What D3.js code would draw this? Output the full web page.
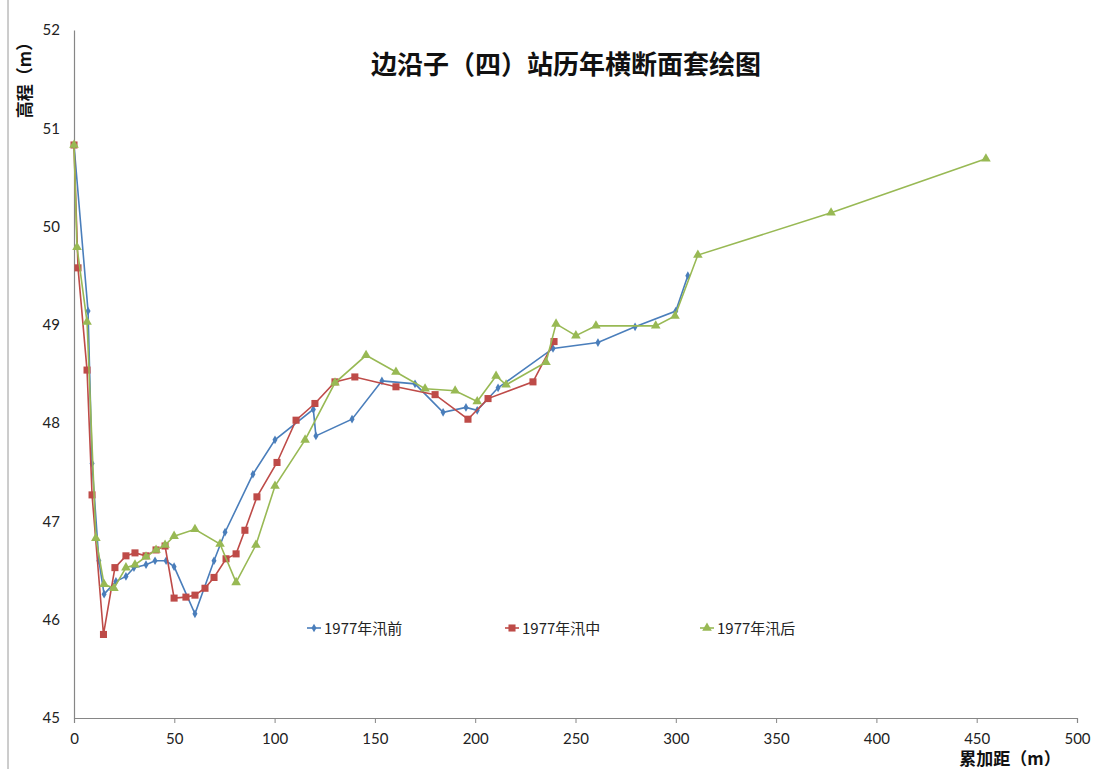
<!DOCTYPE html>
<html>
<head>
<meta charset="utf-8">
<script src="https://cdn.jsdelivr.net/npm/d3@7"></script>
<style>
    body { margin: 0; background: #fff; }
    svg text { font-family: Lato, "Noto Sans CJK SC", sans-serif; }
</style>
</head>
<body>
<div id="chart"></div>
<script>
/* Chart data: cumulative distance (m) and elevation (m) for each survey. */
const seriesNames = ['1977年汛前', '1977年汛中', '1977年汛后'];

const distBefore = [0, 7, 9, 12.4, 15, 20.9, 25.9, 29.9, 35.9, 40.4, 45.9, 49.9, 60.3, 69.8, 75.3, 89.2,
    100.2, 119.3, 120.6, 138.6, 153.5, 170, 184, 195.4, 201, 211.4, 238.8, 261.2, 279.7, 300, 306];
const elevBefore = [50.83, 49.14, 47.59, 46.6, 46.26, 46.39, 46.44, 46.53, 46.56, 46.6, 46.6, 46.54, 46.06, 46.6, 46.89, 47.48,
    47.83, 48.14, 47.87, 48.04, 48.43, 48.4, 48.11, 48.16, 48.13, 48.36, 48.76, 48.82, 48.98, 49.14, 49.5];

const distDuring = [0, 2, 6.5, 9, 14.7, 20.4, 25.9, 30.4, 35.9, 40.9, 45.4, 49.9, 55.8, 60.3, 65.3, 69.8,
    75.8, 80.8, 85.2, 91.2, 101.2, 110.7, 120.1, 130.1, 140, 160.5, 180, 196.4, 206.4, 228.8, 239.3];
const elevDuring = [50.83, 49.58, 48.54, 47.27, 45.85, 46.53, 46.65, 46.68, 46.65, 46.71, 46.75, 46.22, 46.23, 46.25, 46.32, 46.43,
    46.62, 46.67, 46.91, 47.25, 47.6, 48.03, 48.2, 48.42, 48.47, 48.37, 48.29, 48.04, 48.25, 48.42, 48.83];

const distAfter = [0, 1.5, 6.5, 10.9, 15, 19.9, 25.9, 30.4, 35.9, 40.9, 45.4, 49.9, 60.3, 72.8, 80.8, 90.7,
    100.2, 115.2, 130.1, 145.6, 160.5, 175, 190, 201, 210.4, 215.4, 235.3, 240.3, 250.2, 260.2, 290, 299.6, 311, 377.4, 454.6];
const elevAfter = [50.83, 49.79, 49.03, 46.83, 46.36, 46.32, 46.53, 46.56, 46.64, 46.71, 46.76, 46.85, 46.92, 46.77, 46.38, 46.76,
    47.36, 47.83, 48.41, 48.69, 48.52, 48.35, 48.33, 48.22, 48.48, 48.39, 48.62, 49.01, 48.89, 48.99, 48.99, 49.09, 49.71, 50.14, 50.69];

const xTicks = [0, 50, 100, 150, 200, 250, 300, 350, 400, 450, 500];
const yTicks = [45, 46, 47, 48, 49, 50, 51, 52];

/* Chart creation values. */
const W = 1097, H = 769;
const margin = {top: 30, right: 20, bottom: 51, left: 74};
const width = 1077 - margin.left;
const height = 718 - margin.top;

const colors = ['#4a7ebb', '#be4b48', '#98b954'];
const shapes = [d3.symbolDiamond, d3.symbolSquare, d3.symbolTriangle];
const sizes = [22, 50, 40];

const svg = d3.select('#chart').append('svg')
    .attr('width', W)
    .attr('height', H);

// Chart area border on the left.
svg.append('line')
    .attr('x1', 8).attr('x2', 8).attr('y1', 0).attr('y2', H)
    .attr('stroke', '#9a9a9a').attr('stroke-width', 1);

const g = svg.append('g')
    .attr('transform', 'translate(' + margin.left + ',' + margin.top + ')');

const x = d3.scaleLinear().domain([0, 500]).range([0, width]);
const y = d3.scaleLinear().domain([45, 52]).range([height, 0]);

// Draw axis.
const xAxis = g.append('g')
    .attr('transform', 'translate(0,' + height + ')')
    .call(d3.axisBottom(x).tickValues(xTicks).tickSize(5).tickPadding(10));
const yAxis = g.append('g')
    .call(d3.axisLeft(y).tickValues(yTicks).tickFormat(d3.format('d')).tickSize(0).tickPadding(14));

for (const ax of [xAxis, yAxis]) {
    ax.select('.domain').attr('stroke', '#868686').attr('stroke-width', 1.2);
    ax.selectAll('.tick line').attr('stroke', '#868686');
    ax.selectAll('.tick text').attr('fill', '#222').style('font-size', '15px');
}

// Build the three series from the arrays.
const series = [
    distBefore.map((d, i) => ({d: d, v: elevBefore[i]})),
    distDuring.map((d, i) => ({d: d, v: elevDuring[i]})),
    distAfter.map((d, i) => ({d: d, v: elevAfter[i]}))
];

const line = d3.line().x(p => x(p.d)).y(p => y(p.v));

series.forEach(function (data, k) {
    g.append('path')
        .datum(data)
        .attr('fill', 'none')
        .attr('stroke', colors[k])
        .attr('stroke-width', 1.6)
        .attr('d', line);

    g.selectAll('.m' + k)
        .data(data)
        .enter()
        .append('path')
        .attr('class', 'm' + k)
        .attr('transform', p => 'translate(' + x(p.d) + ',' + y(p.v) + ')')
        .attr('d', d3.symbol().type(shapes[k]).size(sizes[k]))
        .attr('fill', colors[k]);
});

// Legend inside the plot.
const legendX = [307, 505, 700];
seriesNames.forEach(function (name, k) {
    const lg = svg.append('g').attr('transform', 'translate(' + legendX[k] + ',628)');
    lg.append('line')
        .attr('x1', 0).attr('x2', 14).attr('y1', 0).attr('y2', 0)
        .attr('stroke', colors[k]).attr('stroke-width', 1.6);
    lg.append('path')
        .attr('transform', 'translate(7,0)')
        .attr('d', d3.symbol().type(shapes[k]).size(sizes[k]))
        .attr('fill', colors[k]);
    lg.append('text')
        .attr('x', 17).attr('y', 6)
        .style('font-size', '15px')
        .style('font-family', '"Noto Sans CJK SC", sans-serif')
        .attr('fill', '#222')
        .text(name);
});

// Title.
svg.append('text')
    .attr('x', 566).attr('y', 74)
    .attr('text-anchor', 'middle')
    .style('font-size', '26px')
    .style('font-weight', 'bold')
    .style('font-family', '"Noto Sans CJK SC", sans-serif')
    .attr('fill', '#111')
    .text('边沿子（四）站历年横断面套绘图');

// Y axis label.
svg.append('text')
    .attr('transform', 'translate(31,76) rotate(-90)')
    .attr('text-anchor', 'middle')
    .style('font-size', '17px')
    .style('font-weight', 'bold')
    .style('font-family', '"Noto Sans CJK SC", sans-serif')
    .attr('fill', '#111')
    .text('高程（m）');

// X axis label.
svg.append('text')
    .attr('x', 1010).attr('y', 765)
    .attr('text-anchor', 'middle')
    .style('font-size', '17px')
    .style('font-weight', 'bold')
    .style('font-family', '"Noto Sans CJK SC", sans-serif')
    .attr('fill', '#111')
    .text('累加距（m）');
</script>
</body>
</html>
